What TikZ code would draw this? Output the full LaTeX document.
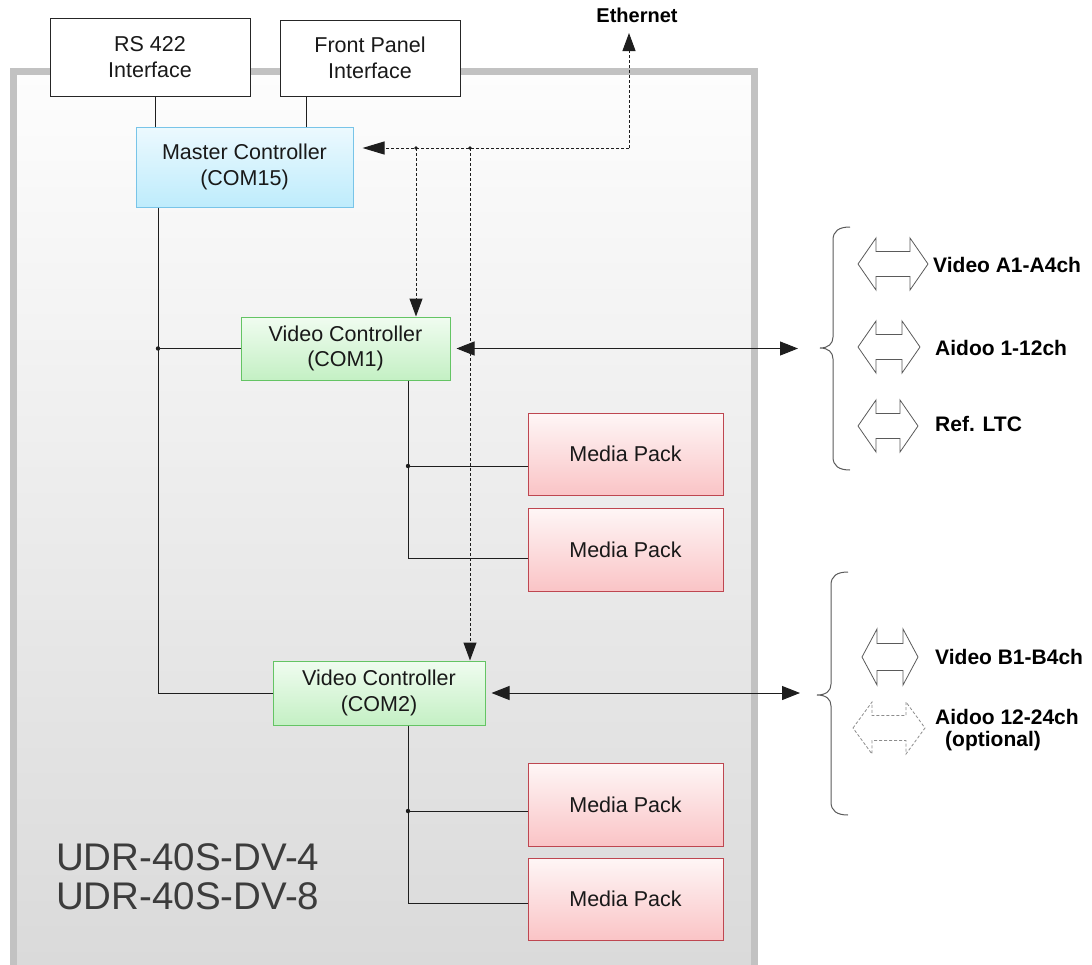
\documentclass[tikz,border=0pt]{standalone}
\usepackage{fontspec}
\setmainfont{Liberation Sans}
\usetikzlibrary{arrows.meta}

\definecolor{framegray}{RGB}{194,194,194}
\definecolor{chassistop}{RGB}{253,253,253}
\definecolor{chassisbot}{RGB}{218,218,218}
\definecolor{mcborder}{RGB}{120,196,232}
\definecolor{mctop}{RGB}{236,249,254}
\definecolor{mcbot}{RGB}{190,236,252}
\definecolor{vcborder}{RGB}{100,196,100}
\definecolor{vctop}{RGB}{240,252,240}
\definecolor{vcbot}{RGB}{196,240,196}
\definecolor{mpborder}{RGB}{190,70,80}
\definecolor{mptop}{RGB}{254,246,246}
\definecolor{mpbot}{RGB}{250,196,198}
\definecolor{wire}{RGB}{30,30,30}
\definecolor{sigline}{RGB}{90,90,90}
\definecolor{modeltext}{RGB}{60,60,60}

% hollow double-headed signal arrow: {style}{left x}{right x}{centre y}{half height}{half shaft}{head length}
\newcommand{\hollowdbl}[7]{%
  \draw[sigshape,#1] (#2,#4) -- (#2+#7,#4-#5) -- (#2+#7,#4-#6) -- (#3-#7,#4-#6)
    -- (#3-#7,#4-#5) -- (#3,#4) -- (#3-#7,#4+#5) -- (#3-#7,#4+#6)
    -- (#2+#7,#4+#6) -- (#2+#7,#4+#5) -- cycle;}

\begin{document}
\begin{tikzpicture}[x=1pt,y=-1pt,
  boxfont/.style={font=\fontsize{21.5}{25.5}\selectfont},
  unit/.style={boxfont, align=center, inner sep=0pt, line width=1pt, text=black!90},
  ifbox/.style={unit, draw=black!85, fill=white},
  mcbox/.style={unit, draw=mcborder, top color=mctop, bottom color=mcbot},
  vcbox/.style={unit, draw=vcborder, top color=vctop, bottom color=vcbot},
  mpbox/.style={unit, draw=mpborder, top color=mptop, bottom color=mpbot},
  wireline/.style={draw=wire, line width=1pt},
  ctrlline/.style={draw=wire, line width=1pt, dash pattern=on 3pt off 2pt},
  bigtip/.style={-{Triangle[length=18pt,width=13pt]}},
  dbltip/.style={{Triangle[length=18pt,width=14pt]}-{Triangle[length=18pt,width=14pt]}},
  joint/.style={fill=wire},
  sigshape/.style={draw=sigline, line width=0.8pt, fill=white},
  labelfont/.style={font=\bfseries\fontsize{21}{23}\selectfont},
  siglabel/.style={labelfont, anchor=west, inner sep=0pt},
  brace/.style={draw=sigline, line width=1pt}
]
\useasboundingbox (0,0) rectangle (1092,964);
\clip (0,0) rectangle (1092,964);

% chassis
\shade[top color=chassistop, bottom color=chassisbot] (13,71.5) rectangle (754.5,964);
\draw[framegray, line width=7pt, line join=miter] (13,980) -- (13,71.5) -- (754.5,71.5) -- (754.5,980);

% external interfaces
\node[ifbox, minimum width=200pt, minimum height=78pt] (rs) at (150,57) {RS 422\\Interface};
\node[ifbox, minimum width=180pt, minimum height=76pt] (fp) at (370,58) {Front Panel\\Interface};

% controllers
\node[mcbox, minimum width=217pt, minimum height=80pt] (mc) at (244.5,167) {Master Controller\\(COM15)};
\node[vcbox, minimum width=209pt, minimum height=63pt] (vc1) at (345.5,348.5) {Video Controller\\(COM1)};
\node[vcbox, minimum width=212pt, minimum height=64pt] (vc2) at (379,693) {Video Controller\\(COM2)};

% media packs
\node[mpbox, minimum width=195pt, minimum height=82pt] (mp1) at (625.5,454) {Media Pack};
\node[mpbox, minimum width=195pt, minimum height=83pt] (mp2) at (625.5,549.5) {Media Pack};
\node[mpbox, minimum width=195pt, minimum height=83pt] (mp3) at (625.5,804.5) {Media Pack};
\node[mpbox, minimum width=195pt, minimum height=82pt] (mp4) at (625.5,899) {Media Pack};

% model names
\node[anchor=west, align=left, inner sep=0pt, text=modeltext,
      font=\fontsize{38.5}{39}\selectfont] (model) at (56,877) {UDR-40S-DV-4\\UDR-40S-DV-8};

% Ethernet
\node[font=\bfseries\fontsize{20}{22}\selectfont, inner sep=0pt] (eth) at (637,15) {Ethernet};

% helper coordinates
\coordinate (rsx) at (155,0);
\coordinate (fpx) at (306,0);
\coordinate (busx) at (158,0);
\coordinate (treex) at (408,0);
\coordinate (ethtip) at (629,33);
\coordinate (ethcorner) at (629,148);
\coordinate (tap1) at (416,148);
\coordinate (tap2) at (470,148);
\coordinate (sigA) at (798,348.5);
\coordinate (sigB) at (800,693);
\coordinate (mp1in) at ([yshift=-12pt]mp1.west);
\coordinate (mp2in) at ([yshift=-8.5pt]mp2.west);
\coordinate (mp3in) at ([yshift=-6.5pt]mp3.west);
\coordinate (mp4in) at ([yshift=-4pt]mp4.west);

% interface links
\draw[wireline] (rsx |- rs.south) -- (rsx |- mc.north);
\draw[wireline] (fpx |- fp.south) -- (fpx |- mc.north);

% control bus from master controller
\draw[wireline] (busx |- mc.south) -- (busx |- vc2.west) -- (vc2.west);
\draw[wireline] (busx |- vc1.west) -- (vc1.west);
\fill[joint] (busx |- vc1.west) circle (2.2pt);

% media pack links
\draw[wireline] (treex |- vc1.south) -- (treex |- mp2in) -- (mp2in);
\draw[wireline] (treex |- mp1in) -- (mp1in);
\fill[joint] (treex |- mp1in) circle (2.2pt);
\draw[wireline] (treex |- vc2.south) -- (treex |- mp4in) -- (mp4in);
\draw[wireline] (treex |- mp3in) -- (mp3in);
\fill[joint] (treex |- mp3in) circle (2.2pt);

% Ethernet control network
\draw[ctrlline, bigtip] (ethcorner) -- (ethtip);
\draw[ctrlline, -{Triangle[length=22pt,width=13pt]}, shorten >=9pt] (ethcorner) -- (mc.east |- ethcorner);
\draw[ctrlline, bigtip] (tap1) -- (tap1 |- vc1.north);
\draw[ctrlline, bigtip] (tap2) -- (tap2 |- vc2.north);
\fill[joint] (tap1) circle (1.8pt);
\fill[joint] (tap2) circle (1.8pt);

% signal paths
\draw[wireline, dbltip, shorten <=6pt] (vc1.east) -- (sigA);
\draw[wireline, dbltip, shorten <=6pt] (vc2.east) -- (sigB);

% brace, channel group A
\draw[brace] (850,227) .. controls (839,227) and (833,231) .. (833,240) -- (833,337)
  .. controls (833,344) and (828,348) .. (820,348)
  .. controls (828,348) and (833,352) .. (833,359) -- (833,457)
  .. controls (833,466) and (839,470) .. (850,470);
% brace, channel group B
\draw[brace] (848,572) .. controls (837,572) and (831,576) .. (831,585) -- (831,684)
  .. controls (831,691) and (826,695) .. (817,695)
  .. controls (826,695) and (831,699) .. (831,706) -- (831,802)
  .. controls (831,811) and (837,815) .. (848,815);

% channel arrows
\hollowdbl{}{858}{928}{264}{26}{12.5}{18}
\hollowdbl{}{858}{920}{347}{26}{12.5}{18}
\hollowdbl{}{858}{918}{426}{26}{12.5}{18}
\hollowdbl{}{862}{918}{657}{28}{13.5}{15}
\hollowdbl{draw=black!45, dash pattern=on 3pt off 2pt}{853}{925}{728}{26}{12.5}{19}

% channel labels
\node[siglabel] (lA1) at (933,265) {Video A1-A4ch};
\node[siglabel] (lA2) at (935,348) {Aidoo 1-12ch};
\node[siglabel] (lA3) at (935,424) {Ref. LTC};
\node[siglabel] (lB1) at (935,657) {Video B1-B4ch};
\node[siglabel] (lB2) at (935,717) {Aidoo 12-24ch};
\node[labelfont, inner sep=0pt] (lB3) at (993,741) {(optional)};
\end{tikzpicture}
\end{document}
